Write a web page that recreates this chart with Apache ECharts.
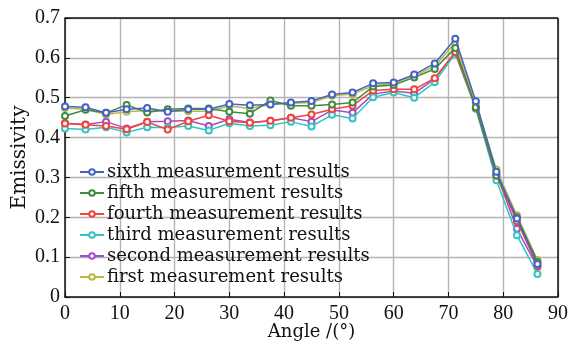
<!DOCTYPE html>
<html>
<head>
<meta charset="utf-8">
<script src="https://cdn.jsdelivr.net/npm/echarts@6/dist/echarts.min.js"></script>
<style>
  html, body { margin: 0; padding: 0; background: #fff; }
  #chart { width: 572px; height: 345px; }
</style>
</head>
<body>
<div id="chart"></div>
<script>
// angle of incidence (deg)
var angles = [0, 3.75, 7.5, 11.25, 15, 18.75, 22.5, 26.25, 30, 33.75, 37.5, 41.25,
    45, 48.75, 52.5, 56.25, 60, 63.75, 67.5, 71.25, 75, 78.75, 82.5, 86.25];

var sixth = [0.478, 0.476, 0.462, 0.471, 0.474, 0.465, 0.471, 0.471, 0.484, 0.481, 0.483, 0.488,
    0.492, 0.508, 0.513, 0.536, 0.538, 0.558, 0.586, 0.648, 0.491, 0.314, 0.197, 0.083];
var fifth = [0.454, 0.470, 0.462, 0.482, 0.463, 0.471, 0.473, 0.473, 0.465, 0.460, 0.493, 0.480,
    0.480, 0.483, 0.488, 0.528, 0.532, 0.551, 0.572, 0.625, 0.476, 0.305, 0.200, 0.088];
var fourth = [0.435, 0.432, 0.429, 0.421, 0.439, 0.420, 0.441, 0.456, 0.441, 0.437, 0.442, 0.450,
    0.458, 0.471, 0.480, 0.518, 0.521, 0.521, 0.549, 0.615, 0.475, 0.305, 0.190, 0.079];
var third = [0.423, 0.420, 0.426, 0.413, 0.426, 0.425, 0.429, 0.418, 0.436, 0.429, 0.431, 0.440,
    0.428, 0.457, 0.448, 0.501, 0.513, 0.500, 0.539, 0.610, 0.472, 0.293, 0.155, 0.058];
var second = [0.436, 0.433, 0.440, 0.423, 0.440, 0.441, 0.443, 0.429, 0.446, 0.438, 0.442, 0.450,
    0.440, 0.469, 0.462, 0.509, 0.517, 0.511, 0.547, 0.614, 0.474, 0.310, 0.171, 0.075];
var first = [0.474, 0.471, 0.458, 0.465, 0.468, 0.466, 0.466, 0.466, 0.479, 0.473, 0.483, 0.486,
    0.488, 0.505, 0.509, 0.530, 0.536, 0.555, 0.579, 0.638, 0.487, 0.320, 0.205, 0.093];

var names = ['sixth measurement results', 'fifth measurement results', 'fourth measurement results',
    'third measurement results', 'second measurement results', 'first measurement results'];
var values = [sixth, fifth, fourth, third, second, first];
var colors = ['#4563c6', '#3f8c3f', '#f2443a', '#33c3c3', '#a34fc2', '#b9b943'];

var font = 'DejaVu Serif';
var tickFont = 'Liberation Serif';

var chartDom = document.getElementById('chart');
var myChart = echarts.init(chartDom);
var option;

option = {
    animation: false,
    color: colors,
    grid: { left: 65, right: 14, top: 18, bottom: 48, containLabel: false, outerBoundsMode: 'none' },
    legend: {
        orient: 'vertical',
        left: 74,
        top: 158,
        itemWidth: 24,
        itemHeight: 7,
        itemGap: 3,
        textStyle: { fontFamily: font, fontSize: 18, color: '#111', padding: [0, 0, 0, -2] },
        data: names
    },
    xAxis: {
        type: 'value',
        min: 0, max: 90, interval: 10,
        name: 'Angle /(°)',
        nameLocation: 'middle',
        nameGap: 26,
        nameMoveOverlap: false,
        nameTextStyle: { fontFamily: font, fontSize: 18, color: '#111' },
        axisLine: { show: true, lineStyle: { color: '#111', width: 1.5 } },
        axisTick: { show: true, inside: true, length: 5, lineStyle: { color: '#111' } },
        axisLabel: { fontFamily: tickFont, fontSize: 20, color: '#111', margin: 7 },
        splitLine: { show: true, lineStyle: { color: '#b4b4b4', width: 1.4 } }
    },
    yAxis: {
        type: 'value',
        min: 0, max: 0.7, interval: 0.1,
        name: 'Emissivity',
        nameLocation: 'middle',
        nameGap: 35,
        nameMoveOverlap: false,
        nameTextStyle: { fontFamily: font, fontSize: 20, color: '#111' },
        axisLine: { show: true, lineStyle: { color: '#111', width: 1.5 } },
        axisTick: { show: true, inside: true, length: 5, lineStyle: { color: '#111' } },
        axisLabel: {
            fontFamily: tickFont, fontSize: 20, color: '#111', margin: 5,
            formatter: function (v) { return v === 0 ? '0' : v.toFixed(1); }
        },
        splitLine: { show: true, lineStyle: { color: '#b4b4b4', width: 1.4 } }
    },
    series: names.map(function (n, k) {
        return {
            name: n,
            type: 'line',
            data: angles.map(function (a, i) { return [a, values[k][i]]; }),
            symbol: 'emptyCircle',
            symbolSize: 6,
            z: 10 - k,
            lineStyle: { width: 1.5 },
            itemStyle: { borderWidth: 1.2 }
        };
    }).concat([{
        // frame on top and right
        type: 'line',
        silent: true,
        data: [],
        markLine: {
            silent: true,
            symbol: 'none',
            label: { show: false },
            lineStyle: { color: '#111', width: 1.5, type: 'solid' },
            data: [{ yAxis: 0.7 }, { xAxis: 90 }]
        }
    }])
};

option && myChart.setOption(option);
</script>
</body>
</html>
